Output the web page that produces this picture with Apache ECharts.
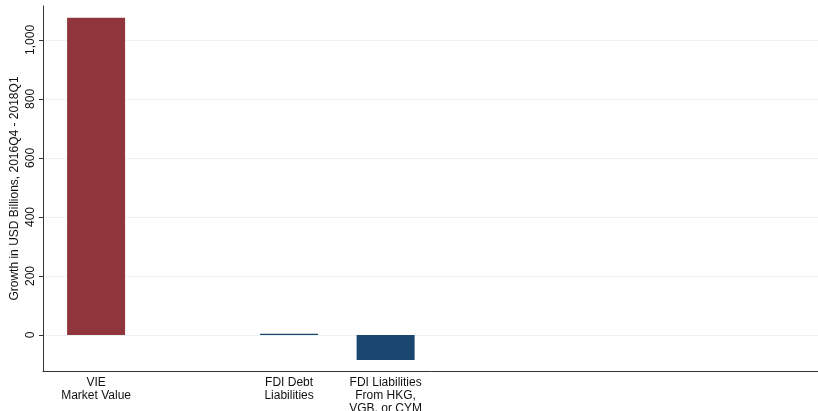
<!DOCTYPE html>
<html>
<head>
<meta charset="utf-8">
<script src="https://cdn.jsdelivr.net/npm/echarts@6/dist/echarts.min.js"></script>
<style>
  html, body { margin: 0; padding: 0; background: #fff; }
  #chart { width: 818px; height: 411px; }
</style>
</head>
<body>
<div id="chart"></div>
<script>
// Bar positions along the x scale and their labels
const positions = [1, 3, 4];
const categories = ['VIE\nMarket Value', 'FDI Debt\nLiabilities', 'FDI Liabilities\nFrom HKG,\nVGB, or CYM'];
const growth = [1075, 4.5, -85];
const barColors = ['#90353b', '#1a476f', '#1a476f'];
const yTicks = [0, 200, 400, 600, 800, 1000];

const chart = echarts.init(document.getElementById('chart'));

const labelFor = {};
positions.forEach((p, i) => { labelFor[p] = categories[i]; });

chart.setOption({
  animation: false,
  backgroundColor: '#ffffff',
  textStyle: { fontFamily: 'Liberation Sans, Arial, sans-serif' },
  grid: { left: 43, right: 0, top: 6, bottom: 40, containLabel: false, outerBoundsMode: 'none' },
  xAxis: {
    type: 'value',
    min: 0.45,
    max: 8.48,
    axisLine: { show: true, onZero: false, lineStyle: { color: '#333', width: 1 } },
    axisTick: { show: false, customValues: positions },
    splitLine: { show: false },
    axisLabel: {
      customValues: positions,
      formatter: v => labelFor[v] || '',
      color: '#111',
      fontSize: 12,
      lineHeight: 13,
      margin: 5
    }
  },
  yAxis: {
    type: 'value',
    min: -122,
    max: 1115,
    name: 'Growth in USD Billions, 2016Q4 - 2018Q1',
    nameLocation: 'middle',
    nameGap: 22,
    nameMoveOverlap: false,
    nameRotate: 90,
    nameTextStyle: { color: '#111', fontSize: 12 },
    axisLine: { show: true, lineStyle: { color: '#333', width: 1 } },
    axisTick: { show: true, length: 4, customValues: yTicks, lineStyle: { color: '#333' } },
    splitLine: { show: true, lineStyle: { color: '#eaf2f3', width: 1 } },
    axisLabel: {
      customValues: yTicks,
      rotate: 90,
      formatter: v => v.toLocaleString('en-US'),
      color: '#111',
      fontSize: 12,
      margin: 6
    }
  },
  series: [{
    type: 'bar',
    barWidth: 58,
    data: positions.map((p, i) => ({
      value: [p, growth[i]],
      itemStyle: { color: barColors[i] }
    }))
  }]
});
</script>
</body>
</html>
